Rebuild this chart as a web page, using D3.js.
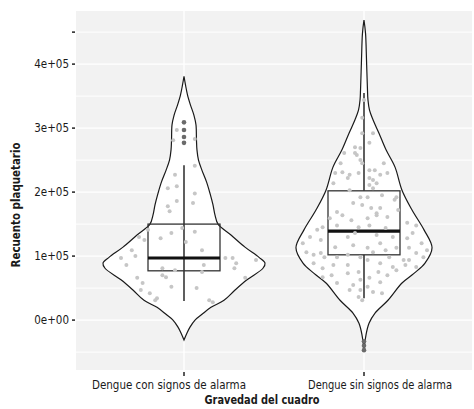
<!DOCTYPE html>
<html>
<head>
<meta charset="utf-8">
<script src="https://cdn.jsdelivr.net/npm/d3@7"></script>
<style>
  body { margin: 0; background: #fff; }
  text { font-family: "Liberation Sans Narrow", "DejaVu Sans Condensed", "Roboto", sans-serif; fill: #1a1a1a; }
</style>
</head>
<body>
<div id="chart"></div>
<script>
// values in thousands of platelets
var categories = ['Dengue con signos de alarma', 'Dengue sin signos de alarma']

var yTicks = [0, 100, 200, 300, 400, 450]
var yTickLabels = ['0e+00', '1e+05', '2e+05', '3e+05', '4e+05', '']

// violin outline: [value, relative density]
var violinCon = [[381, 0], [367, 0.019], [352, 0.043], [336, 0.08], [320, 0.123], [305, 0.148],
  [281, 0.154], [266, 0.16], [250, 0.179], [234, 0.222], [216, 0.278], [198, 0.321], [180, 0.358],
  [164, 0.383], [150, 0.42], [133, 0.58], [114, 0.753], [98, 0.926], [89, 1.0], [81, 0.975],
  [63, 0.778], [47, 0.63], [31, 0.494], [20, 0.333], [9, 0.222], [0, 0.136], [-11, 0.074],
  [-20, 0.037], [-31, 0]]
var violinSin = [[469, 0], [448, 0.019], [406, 0.031], [359, 0.043], [344, 0.049], [328, 0.068],
  [313, 0.111], [292, 0.185], [266, 0.272], [239, 0.383], [203, 0.469], [172, 0.593], [141, 0.741],
  [113, 0.84], [89, 0.753], [73, 0.617], [58, 0.469], [31, 0.296], [11, 0.136], [-5, 0.062],
  [-23, 0.025], [-47, 0]]

// [lower whisker, q1, median, q3, upper whisker]
var boxCon = [30, 77, 97, 150, 242]
var boxSin = [34, 102, 139, 202, 355]

var outliersCon = [309, 297, 286, 277]
var outliersSin = [-33, -40, -47]

// jittered observations: [jitter (category units), value]
var pointsCon = [[-0.04, 297], [-0.06, 281], [0.06, 283], [0.06, 241], [-0.05, 227], [-0.09, 206],
  [-0.04, 209], [0.06, 198], [0.05, 183], [-0.09, 178], [-0.08, 170], [-0.04, 186], [-0.25, 130],
  [-0.22, 125], [-0.29, 109], [-0.35, 97], [-0.32, 86], [-0.26, 66], [-0.23, 58], [-0.24, 47],
  [-0.19, 42], [-0.15, 34], [-0.07, 136], [-0.13, 128], [-0.01, 144], [0.01, 122], [0.06, 138],
  [0.10, 109], [-0.12, 81], [-0.12, 70], [-0.10, 67], [-0.05, 78], [0.11, 86], [0.10, 75],
  [-0.07, 52], [0.07, 50], [0.14, 31], [0.23, 97], [0.27, 97], [0.29, 89], [0.28, 81], [0.40, 94],
  [0.34, 66], [-0.27, 100], [-0.16, 31], [0.16, 28], [-0.20, 141]]
var pointsSin = [[-0.05, 270], [-0.02, 269], [0.03, 277], [0.05, 292], [-0.01, 292], [-0.11, 261],
  [-0.04, 258], [-0.13, 245], [-0.01, 245], [0.11, 245], [0.06, 234], [-0.03, 230], [-0.08, 227],
  [-0.16, 230], [-0.12, 231], [0.09, 227], [0.13, 230], [0.03, 222], [-0.17, 214], [-0.08, 203],
  [-0.02, 192], [0.07, 214], [0.18, 192], [-0.05, 261], [-0.02, 250], [-0.09, 222], [0.03, 234],
  [0.05, 219], [0.03, 211], [0.05, 206], [0.02, 192], [0.10, 195], [0.17, 188], [-0.06, 183],
  [-0.01, 180], [0.04, 175], [0.09, 175], [0.19, 172], [-0.15, 169], [0.07, 164], [0.13, 161],
  [0.0, 344], [-0.01, 316],
  [-0.19, 159], [-0.12, 164], [-0.07, 156], [0.02, 159], [0.07, 167], [-0.26, 141], [-0.23, 145],
  [-0.15, 148], [-0.03, 145], [0.03, 148], [0.12, 144], [0.24, 152], [0.29, 148], [0.27, 136],
  [-0.30, 130], [-0.34, 120], [-0.24, 125], [-0.09, 130], [-0.05, 136], [0.07, 133], [0.16, 130],
  [0.24, 128], [0.32, 120], [0.35, 109], [-0.32, 106], [-0.28, 102], [-0.24, 105], [-0.22, 98],
  [-0.16, 114], [-0.06, 117], [0.02, 113], [0.09, 120], [0.12, 109], [0.18, 113], [0.25, 113],
  [0.29, 105], [0.33, 98], [-0.15, 98], [-0.09, 102], [-0.02, 98], [0.05, 106], [0.14, 98],
  [0.22, 94], [0.25, 94], [-0.28, 89], [-0.23, 81], [-0.17, 86], [-0.09, 86], [0.02, 94],
  [0.09, 89], [0.16, 83], [0.23, 86], [0.29, 83], [-0.23, 67], [-0.18, 70], [-0.09, 73],
  [-0.03, 75], [0.08, 75], [0.13, 70], [0.18, 78], [-0.02, 63], [0.03, 66], [0.09, 59],
  [-0.15, 58], [-0.08, 47], [-0.02, 47], [0.02, 52], [0.05, 44], [-0.03, 36], [-0.01, 31],
  [-0.06, 55], [0.10, 42]]

var violins = [violinCon, violinSin]
var boxes = [boxCon, boxSin]
var outliers = [outliersCon, outliersSin]
var points = [pointsCon, pointsSin]

var width = 474
var height = 409
var panel = { left: 76, top: 11, right: 472, bottom: 370 }

var svg = d3
  .select('#chart')
  .append('svg')
  .attr('width', width)
  .attr('height', height)

var xPositionScale = d3
  .scalePoint()
  .domain(categories)
  .range([panel.left, panel.right])
  .padding(0.6)
var unit = xPositionScale.step()

var yPositionScale = d3
  .scaleLinear()
  .domain([-78, 483])
  .range([panel.bottom, panel.top])

var widthScale = d3.scaleLinear().domain([0, 1]).range([0, 0.45 * unit])

// panel + grid
svg
  .append('rect')
  .attr('x', panel.left)
  .attr('y', panel.top)
  .attr('width', panel.right - panel.left)
  .attr('height', panel.bottom - panel.top)
  .attr('fill', '#f2f2f2')

var minor = d3.range(-50, 480, 50)
svg
  .selectAll('.grid-y')
  .data(minor)
  .enter()
  .append('line')
  .attr('x1', panel.left)
  .attr('x2', panel.right)
  .attr('y1', d => yPositionScale(d))
  .attr('y2', d => yPositionScale(d))
  .attr('stroke', '#fff')
  .attr('stroke-width', d => (d % 100 === 0 ? 1.4 : 1))

svg
  .selectAll('.grid-x')
  .data(categories)
  .enter()
  .append('line')
  .attr('x1', d => xPositionScale(d))
  .attr('x2', d => xPositionScale(d))
  .attr('y1', panel.top)
  .attr('y2', panel.bottom)
  .attr('stroke', '#fff')
  .attr('stroke-width', 1.4)

// violins
var area = d3
  .area()
  .y(d => yPositionScale(d[0]))
  .curve(d3.curveCatmullRom)

svg
  .selectAll('.violin')
  .data(categories)
  .enter()
  .append('path')
  .attr('d', function(d, i) {
    var cx = xPositionScale(d)
    area.x0(p => cx - widthScale(p[1])).x1(p => cx + widthScale(p[1]))
    return area(violins[i])
  })
  .attr('fill', '#fff')
  .attr('stroke', '#1a1a1a')
  .attr('stroke-width', 1.2)

// boxplots
var boxW = 0.4 * unit
categories.forEach(function(cat, i) {
  var cx = xPositionScale(cat)
  var b = boxes[i]
  var g = svg.append('g')
  // left group shows the whisker running through the box
  if (i === 0) {
    g.append('line')
      .attr('x1', cx).attr('x2', cx)
      .attr('y1', yPositionScale(b[0])).attr('y2', yPositionScale(b[4]))
      .attr('stroke', '#1a1a1a').attr('stroke-width', 1.4)
  } else {
    g.append('line')
      .attr('x1', cx).attr('x2', cx)
      .attr('y1', yPositionScale(b[0])).attr('y2', yPositionScale(b[1]))
      .attr('stroke', '#1a1a1a').attr('stroke-width', 1.4)
    g.append('line')
      .attr('x1', cx).attr('x2', cx)
      .attr('y1', yPositionScale(b[3])).attr('y2', yPositionScale(b[4]))
      .attr('stroke', '#1a1a1a').attr('stroke-width', 1.4)
  }
  g.append('rect')
    .attr('x', cx - boxW / 2)
    .attr('y', yPositionScale(b[3]))
    .attr('width', boxW)
    .attr('height', yPositionScale(b[1]) - yPositionScale(b[3]))
    .attr('fill', 'none')
    .attr('stroke', '#333')
    .attr('stroke-width', 1.3)
  g.append('line')
    .attr('x1', cx - boxW / 2).attr('x2', cx + boxW / 2)
    .attr('y1', yPositionScale(b[2])).attr('y2', yPositionScale(b[2]))
    .attr('stroke', '#111').attr('stroke-width', 3.2)

  g.selectAll('.outlier')
    .data(outliers[i])
    .enter()
    .append('circle')
    .attr('cx', cx)
    .attr('cy', d => yPositionScale(d))
    .attr('r', 2.3)
    .attr('fill', '#6a6a6a')

  g.selectAll('.pt')
    .data(points[i])
    .enter()
    .append('circle')
    .attr('cx', d => cx + d[0] * unit)
    .attr('cy', d => yPositionScale(d[1]))
    .attr('r', 2)
    .attr('fill', '#c6c6c6')
})

// y axis
svg
  .selectAll('.ytick')
  .data(yTicks)
  .enter()
  .append('line')
  .attr('x1', panel.left - 4)
  .attr('x2', panel.left - 1)
  .attr('y1', d => yPositionScale(d))
  .attr('y2', d => yPositionScale(d))
  .attr('stroke', '#222')
  .attr('stroke-width', 1.5)

svg
  .selectAll('.ylabel')
  .data(yTicks)
  .enter()
  .append('text')
  .attr('x', panel.left - 7)
  .attr('y', d => yPositionScale(d) + 4)
  .attr('text-anchor', 'end')
  .attr('font-size', 11.5)
  .text((d, i) => yTickLabels[i])

// x axis
svg
  .selectAll('.xtick')
  .data(categories)
  .enter()
  .append('line')
  .attr('x1', d => xPositionScale(d))
  .attr('x2', d => xPositionScale(d))
  .attr('y1', panel.bottom + 2)
  .attr('y2', panel.bottom + 6)
  .attr('stroke', '#222')
  .attr('stroke-width', 1.5)

var labelShift = [-15, 16]
var labelLength = [154, 144]
svg
  .selectAll('.xlabel')
  .data(categories)
  .enter()
  .append('text')
  .attr('x', (d, i) => xPositionScale(d) + labelShift[i])
  .attr('y', 389)
  .attr('text-anchor', 'middle')
  .attr('font-size', 13)
  .attr('textLength', (d, i) => labelLength[i])
  .attr('lengthAdjust', 'spacingAndGlyphs')
  .text(d => d)

svg
  .append('text')
  .attr('x', 262)
  .attr('y', 404)
  .attr('text-anchor', 'middle')
  .attr('font-size', 12.5)
  .attr('font-weight', 'bold')
  .attr('textLength', 115)
  .attr('lengthAdjust', 'spacingAndGlyphs')
  .text('Gravedad del cuadro')

svg
  .append('text')
  .attr('transform', 'translate(20,205) rotate(-90)')
  .attr('text-anchor', 'middle')
  .attr('font-size', 13)
  .attr('font-weight', 'bold')
  .attr('textLength', 125)
  .attr('lengthAdjust', 'spacingAndGlyphs')
  .text('Recuento plaquetario')
</script>
</body>
</html>
